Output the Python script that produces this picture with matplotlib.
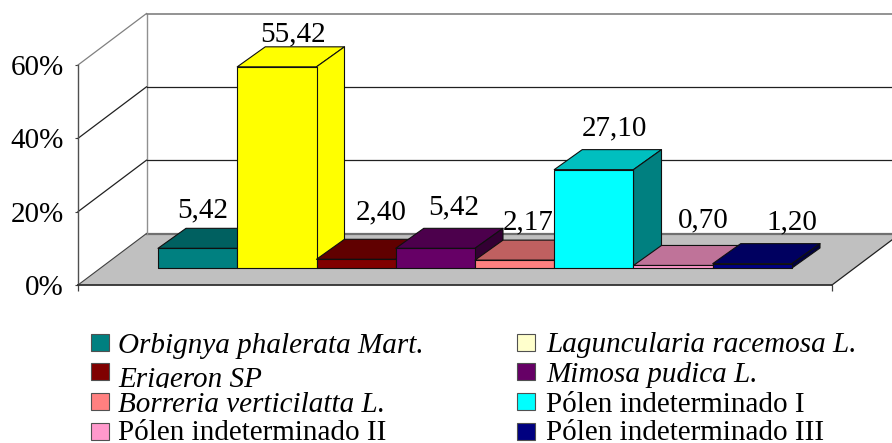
import matplotlib
matplotlib.use('Agg')
import matplotlib.pyplot as plt
from matplotlib.patches import Polygon, Rectangle

plt.rcParams['font.family'] = ['Liberation Serif', 'DejaVu Serif']

# data
species = ['Orbignya phalerata Mart.', 'Laguncularia racemosa L.', 'Erigeron SP', 'Mimosa pudica L.',
           'Borreria verticilatta L.', 'Pólen indeterminado I', 'Pólen indeterminado II', 'Pólen indeterminado III']
values = [5.42, 55.42, 2.40, 5.42, 2.17, 27.10, 0.70, 1.20]
value_labels = ['5,42', '55,42', '2,40', '5,42', '2,17', '27,10', '0,70', '1,20']
y_ticks = [0, 20, 40, 60]
y_tick_labels = ['0%', '20%', '40%', '60%']

# colours: front, top, side
bar_colors = [('#008080', '#006060', '#004040'), ('#FFFF00', '#FFFF00', '#FFFF00'),
              ('#800000', '#600000', '#400000'), ('#660066', '#4C004C', '#330033'),
              ('#FF8080', '#BF6060', '#804040'), ('#00FFFF', '#00BFBF', '#008080'),
              ('#FF99CC', '#BF7399', '#804D66'), ('#000080', '#000060', '#000040')]
legend_colors = ['#008080', '#FFFFCC', '#800000', '#660066', '#FF8080', '#00FFFF', '#FF99CC', '#000080']

W, H = 892, 443
PX_X = 79.25     # pixels per category
PX_Y = 220 / 60  # pixels per percent
FS = 21


def fx(x):
    return x / W


def fy(y):
    return 1 - y / H


fig = plt.figure(figsize=(W / 100, H / 100), dpi=100)
ax = fig.add_axes([fx(78), fy(285), (832 - 78) / W, 220 / H])
ax.set_xlim((78 - 158) / PX_X, (832 - 158) / PX_X)
ax.set_ylim(0, 60)
ax.patch.set_visible(False)
x0, x1 = ax.get_xlim()

# depth of the box and of the bars, in data units
box_dx, box_dy = 68.5 / PX_X, 51.5 / PX_Y
bar_dx, bar_dy = 28 / PX_X, 20 / PX_Y
base = 17 / PX_Y
bar_w = 1.0
bar_scale = 0.99

# walls and floor
ax.add_patch(Polygon([(x0, 0), (x1, 0), (x1 + box_dx, box_dy), (x0 + box_dx, box_dy)], closed=True,
                     facecolor='#C0C0C0', edgecolor='none', clip_on=False, zorder=1))
ax.plot([x0 + box_dx, x1 + box_dx], [box_dy, box_dy], color='#707070', lw=1.6, clip_on=False, zorder=2)
ax.plot([x0, x0 + box_dx], [0, box_dy], color='#404040', lw=0.8, clip_on=False, zorder=2)
ax.plot([x1, x1 + box_dx], [0, box_dy], color='#202020', lw=0.9, clip_on=False, zorder=2)
ax.plot([x0 + box_dx, x0 + box_dx], [box_dy, 60 + box_dy], color='#909090', lw=1.0, clip_on=False, zorder=2)
for t in y_ticks[1:]:
    c = '#808080' if t == 60 else '#202020'
    ax.plot([x0, x0 + box_dx], [t, t + box_dy], color=c, lw=0.9, clip_on=False, zorder=2)
    ax.plot([x0 + box_dx, x1 + box_dx], [t + box_dy, t + box_dy], color=c, lw=0.9 if t != 60 else 1.2,
            clip_on=False, zorder=2)

# bars, left to right so the nearer ones paint over
for i, v in enumerate(values):
    front, top, side = bar_colors[i]
    l, r = i, i + bar_w
    b, t = base, base + v * bar_scale
    z = 3 + i
    st = dict(edgecolor='#101010', linewidth=0.8, clip_on=False, zorder=z, joinstyle='round')
    ax.add_patch(Polygon([(l, t), (r, t), (r + bar_dx, t + bar_dy), (l + bar_dx, t + bar_dy)], facecolor=top, **st))
    ax.add_patch(Polygon([(r, b), (r + bar_dx, b + bar_dy), (r + bar_dx, t + bar_dy), (r, t)], facecolor=side, **st))
    ax.add_patch(Polygon([(l, b), (r, b), (r, t), (l, t)], facecolor=front, **st))

# value labels, Excel moves them around a bit
label_dx = [-23, -12, -3, -10, -14, -7, 2, 12]
label_dy = [18, 12, 27, 21, 18, 21, 25, 21]
for i, v in enumerate(values):
    ax.annotate(value_labels[i], xy=(i + bar_w / 2 + bar_dx, base + v * bar_scale + bar_dy),
                xytext=(label_dx[i], label_dy[i]), textcoords='offset pixels',
                ha='center', va='center', fontsize=FS, color='black', zorder=20, annotation_clip=False)

# axis
ax.set_yticks(y_ticks)
ax.set_yticklabels(y_tick_labels, fontsize=FS)
ax.set_xticks([x0, x1])
ax.set_xticklabels([])
ax.tick_params(axis='y', length=2, width=0.8, color='#404040', pad=8)
ax.tick_params(axis='x', length=4, width=0.9, color='#404040')
for s in ['top', 'right']:
    ax.spines[s].set_visible(False)
ax.spines['left'].set_color('#505050')
ax.spines['left'].set_linewidth(1.0)
ax.spines['left'].set_zorder(15)
ax.spines['bottom'].set_color('#303030')
ax.spines['bottom'].set_linewidth(1.3)
ax.spines['bottom'].set_zorder(15)

# legend, laid out by hand because the rows are uneven
row_top = [334, 363, 393, 423]
baseline_left = [353, 387, 412, 440]
baseline_right = [352, 382, 412, 440]
italic = [True, True, True, True, True, False, False, False]
for k in range(8):
    row = k // 2
    right = k % 2 == 1
    sx = 517 if right else 91
    tx = 546 if right else 118
    by = baseline_right[row] if right else baseline_left[row]
    fig.add_artist(Rectangle((fx(sx), fy(row_top[row] + 17)), 17.5 / W, 17.5 / H, transform=fig.transFigure,
                             facecolor=legend_colors[k], edgecolor='#505050', linewidth=0.8))
    fig.text(fx(tx), fy(by), species[k], fontsize=FS, va='baseline', ha='left', zorder=7,
             style='italic' if italic[k] else 'normal')

# the Erigeron row is cut off at the bottom in the original
for txt in fig.texts:
    if txt.get_text() == 'Erigeron SP':
        txt.set_zorder(3)
fig.add_artist(Rectangle((fx(112), fy(394)), 170 / W, 6 / H, transform=fig.transFigure,
                         facecolor='white', edgecolor='none', zorder=4))

fig.savefig('out.png', dpi=100)
